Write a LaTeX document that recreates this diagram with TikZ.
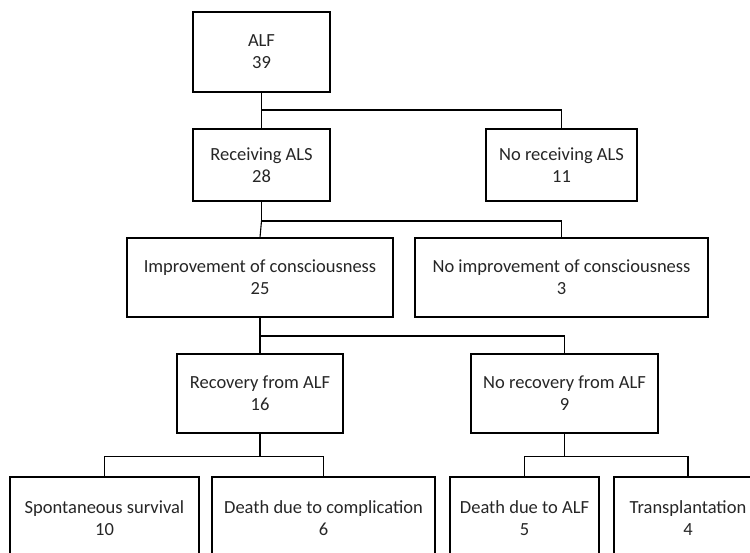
\documentclass[tikz,border=0pt]{standalone}
\usepackage{fontspec}
\setmainfont{Carlito}
\begin{document}
\begin{tikzpicture}[x=1pt,y=-1pt,
  box/.style={draw=black,line width=1.1pt,rectangle,inner sep=0pt,align=center,
    font=\fontsize{18.5}{22}\selectfont,text=black!85},
  link/.style={draw=black,line width=1.1pt}]
\useasboundingbox (0,0) rectangle (750,553);
\clip (0,0) rectangle (750,553);
\fill[white] (0,0) rectangle (750,553);
% level 0
\node[box,minimum width=137pt,minimum height=80pt] (alf) at (261.5,52) {ALF\\39};
% level 1
\node[box,minimum width=137pt,minimum height=72pt] (recv) at (261.5,165) {Receiving ALS\\28};
\node[box,minimum width=151pt,minimum height=72pt] (norecv) at (561.5,165) {No receiving ALS\\11};
% level 2
\node[box,minimum width=266pt,minimum height=79pt] (impr) at (260,277.5) {Improvement of consciousness\\25};
\node[box,minimum width=293pt,minimum height=79pt] (noimpr) at (561.5,277.5) {No improvement of consciousness\\3};
% level 3
\node[box,minimum width=166pt,minimum height=79pt] (recov) at (260,393.5) {Recovery from ALF\\16};
\node[box,minimum width=187pt,minimum height=79pt] (norecov) at (564.5,393.5) {No recovery from ALF\\9};
% level 4
\node[box,minimum width=189pt,minimum height=82pt] (spont) at (104.5,518) {Spontaneous survival\\10};
\node[box,minimum width=223pt,minimum height=82pt] (dcomp) at (323.5,518) {Death due to complication\\6};
\node[box,minimum width=149pt,minimum height=82pt] (dalf) at (524.5,518) {Death due to ALF\\5};
\node[box,minimum width=148pt,minimum height=82pt] (transp) at (688,518) {Transplantation\\4};
% junctions
\coordinate (j1) at (261.5,110);
\coordinate (j2) at (261.5,221);
\coordinate (j3) at (260,336);
\coordinate (j4) at (260,456.5);
\coordinate (j5) at (564.5,456.5);
% connectors
\draw[link] (alf.south) -- (recv.north);
\draw[link] (j1) -| (norecv.north);
\draw[link] (recv.south) -- (j2) -| (noimpr.north);
\draw[link] (j2) -- (impr.north);
\draw[link] (impr.south) -- (recov.north);
\draw[link] (j3) -| (norecov.north);
\draw[link] (recov.south) -- (j4);
\draw[link] (spont.north) |- (j4) -| (dcomp.north);
\draw[link] (norecov.south) -- (j5);
\draw[link] (dalf.north) |- (j5) -| (transp.north);
\end{tikzpicture}
\end{document}
